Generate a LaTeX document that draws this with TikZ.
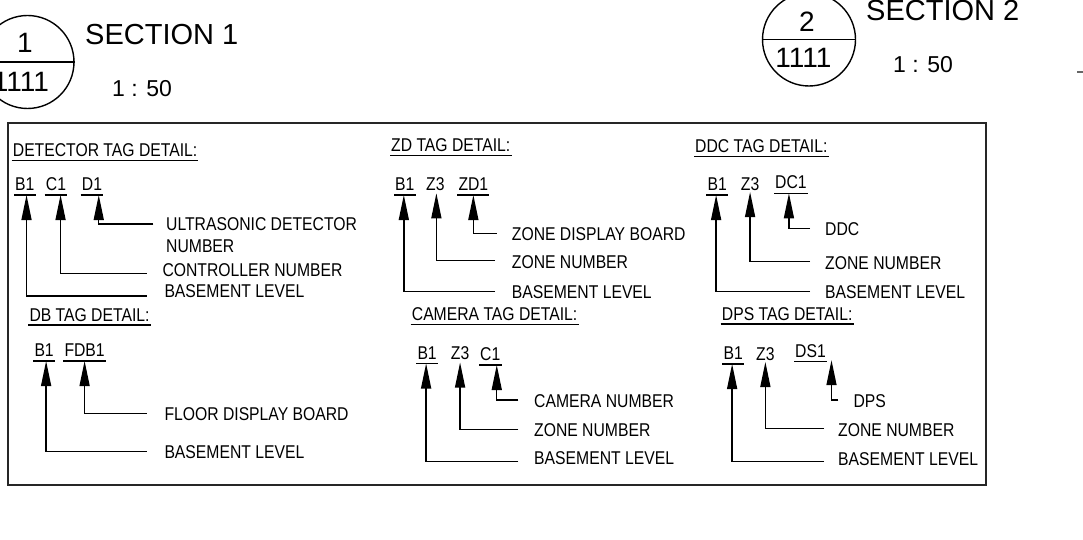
\documentclass[tikz,border=0pt]{standalone}
\usepackage{fontspec}
\setmainfont{Liberation Sans}
\newfontfamily\tagfont[FakeStretch=0.85]{Liberation Sans}
\usetikzlibrary{arrows.meta}
\tikzset{
  txt/.style={font=\tagfont\fontsize{18.5}{21.3}\selectfont, inner sep=0pt, anchor=base west},
  ul/.style={append after command={([xshift=-1pt,yshift=-#1]\tikzlastnode.base west) edge[line width=1.3pt] ([xshift=1pt,yshift=-#1]\tikzlastnode.base east)}},
  ul/.default=4.5pt,
  lead/.style={-{Triangle[length=25pt,width=10pt]}, line width=1.4pt},
  frame/.style={draw=black!85, line width=1.8pt},
  bubble/.style={circle, draw, line width=1.4pt, minimum size=93pt, inner sep=0pt},
  title/.style={font=\fontsize{29}{34}\selectfont, inner sep=0pt, anchor=base west},
  scl/.style={font=\fontsize{23}{27}\selectfont, inner sep=0pt, anchor=base west},
  num/.style={font=\fontsize{28}{32}\selectfont, inner sep=0pt, anchor=base},
}
\begin{document}
\begin{tikzpicture}[x=1pt,y=-1pt]
  \useasboundingbox (0,0) rectangle (1083,540);
  % section marks
  \node[bubble] (s1) at (27.5,62) {};
  \draw[line width=1.4pt] (s1.west) -- (s1.east);
  \node[num] (s1a) at (25,53) {1};
  \node[num] (s1b) at (21,92) {1111};
  \node[title] (s1t) at (85,45) {SECTION 1};
  \node[scl] (s1s) at (112,97) {1 : 50};
  \node[bubble] (s2) at (809,39.5) {};
  \draw[line width=1.4pt] (s2.west) -- (s2.east);
  \node[num] (s2a) at (807,32) {2};
  \node[num] (s2b) at (803.5,68) {1111};
  \node[title] (s2t) at (866,21) {SECTION 2};
  \node[scl] (s2s) at (893,73) {1 : 50};
  \coordinate (cutA) at (1077,72);
  \coordinate (cutB) at (1083,72);
  \draw[line width=1.5pt, black!60] (cutA) -- (cutB);

  % legend frame
  \draw[frame] (8,123) rectangle (986,485);

  % detector tag
  \node[txt, ul=4pt] (hdet) at (12.7,156.7) {DETECTOR TAG DETAIL:};
  \node[txt, ul] (dB) at (15,190.5) {B1};
  \node[txt, ul] (dC) at (45.7,190.5) {C1};
  \node[txt, ul] (dD) at (81.7,190.5) {D1};
  \node[txt, anchor=west, align=left] (dnum) at (166,235) {ULTRASONIC DETECTOR\\NUMBER};
  \node[txt] (dctl) at (162.3,276.7) {CONTROLLER NUMBER};
  \node[txt] (dbas) at (164.3,297) {BASEMENT LEVEL};
  \coordinate (dDe) at (153.3,224);
  \coordinate (dCe) at (146.7,273.3);
  \coordinate (dBe) at (146.7,296);
  \draw[lead] (dDe) -| ([xshift=6.8pt,yshift=-4.5pt]dD.base);
  \draw[lead] (dCe) -| ([xshift=4.6pt,yshift=-4.5pt]dC.base);
  \draw[lead] (dBe) -| ([xshift=1.7pt,yshift=-4.5pt]dB.base);

  % zd tag
  \node[txt, ul=4pt] (hzd) at (391,151.7) {ZD TAG DETAIL:};
  \node[txt, ul] (zB) at (395,190.5) {B1};
  \node[txt] (zZ) at (426,190.5) {Z3};
  \node[txt, ul] (zD) at (458.3,190.5) {ZD1};
  \node[txt] (zdsp) at (511.7,240.7) {ZONE DISPLAY BOARD};
  \node[txt] (znum) at (511.7,268.3) {ZONE NUMBER};
  \node[txt] (zbas) at (511.7,298.3) {BASEMENT LEVEL};
  \coordinate (zDe) at (496.7,233.3);
  \coordinate (zZe) at (495,260.7);
  \coordinate (zBe) at (495,291.7);
  \draw[lead] (zDe) -| ([yshift=-4.5pt]zD.base);
  \draw[lead] (zZe) -| ([xshift=1pt,yshift=-2.8pt]zZ.base);
  \draw[lead] (zBe) -| ([xshift=-1pt,yshift=-4.5pt]zB.base);

  % ddc tag
  \node[txt, ul=4pt] (hddc) at (695,152.7) {DDC TAG DETAIL:};
  \node[txt, ul] (cB) at (707.3,190.5) {B1};
  \node[txt] (cZ) at (740.7,190.5) {Z3};
  \node[txt, ul] (cD) at (775,188.8) {DC1};
  \node[txt] (cddc) at (825,235) {DDC};
  \node[txt] (cnum) at (825,269.3) {ZONE NUMBER};
  \node[txt] (cbas) at (825,298.3) {BASEMENT LEVEL};
  \coordinate (cDe) at (810,228.3);
  \coordinate (cZe) at (810,261.7);
  \coordinate (cBe) at (810,291.7);
  \draw[lead] (cDe) -| ([xshift=-2pt,yshift=-4.5pt]cD.base);
  \draw[lead] (cZe) -| ([yshift=-1.5pt]cZ.base);
  \draw[lead] (cBe) -| ([xshift=-1pt,yshift=-4.5pt]cB.base);

  % db tag
  \node[txt, ul=4pt] (hdb) at (29.3,321) {DB TAG DETAIL:};
  \node[txt, ul] (bB) at (34.3,356.5) {B1};
  \node[txt, ul] (bF) at (64.3,356.5) {FDB1};
  \node[txt] (bfdb) at (164.3,420.7) {FLOOR DISPLAY BOARD};
  \node[txt] (bbas) at (164.3,458.3) {BASEMENT LEVEL};
  \coordinate (bFe) at (146.7,413.3);
  \coordinate (bBe) at (146.7,451.7);
  \draw[lead] (bFe) -| ([yshift=-4.5pt]bF.base);
  \draw[lead] (bBe) -| ([xshift=2pt,yshift=-4.5pt]bB.base);

  % camera tag
  \node[txt, ul=4pt] (hcam) at (411.7,320.7) {CAMERA TAG DETAIL:};
  \node[txt, ul] (mB) at (417.3,359) {B1};
  \node[txt] (mZ) at (450.7,359) {Z3};
  \node[txt, ul] (mC) at (480,360.5) {C1};
  \node[txt] (mcam) at (534,407.3) {CAMERA NUMBER};
  \node[txt] (mnum) at (534,436) {ZONE NUMBER};
  \node[txt] (mbas) at (534,464.3) {BASEMENT LEVEL};
  \coordinate (mCe) at (518.3,400);
  \coordinate (mZe) at (518.3,429.3);
  \coordinate (mBe) at (518.3,461.7);
  \draw[lead] (mCe) -| ([xshift=6.5pt,yshift=-4.5pt]mC.base);
  \draw[lead] (mZe) -| ([yshift=-3.5pt]mZ.base);
  \draw[lead] (mBe) -| ([xshift=-1pt,yshift=-4.5pt]mB.base);

  % dps tag
  \node[txt, ul=4pt] (hdps) at (721.7,320) {DPS TAG DETAIL:};
  \node[txt, ul] (pB) at (723.3,359.5) {B1};
  \node[txt] (pZ) at (756,360) {Z3};
  \node[txt, ul] (pD) at (795,357.2) {DS1};
  \node[txt] (pdps) at (853.3,407.3) {DPS};
  \node[txt] (pnum) at (838,436) {ZONE NUMBER};
  \node[txt] (pbas) at (838,465) {BASEMENT LEVEL};
  \coordinate (pDe) at (838.3,400);
  \coordinate (pZe) at (824,428.3);
  \coordinate (pBe) at (824,461.5);
  \draw[lead] (pDe) -| ([xshift=21pt,yshift=-3pt]pD.base);
  \draw[lead] (pZe) -| ([yshift=-2pt]pZ.base);
  \draw[lead] (pBe) -| ([xshift=-1pt,yshift=-4.5pt]pB.base);
\end{tikzpicture}
\end{document}
